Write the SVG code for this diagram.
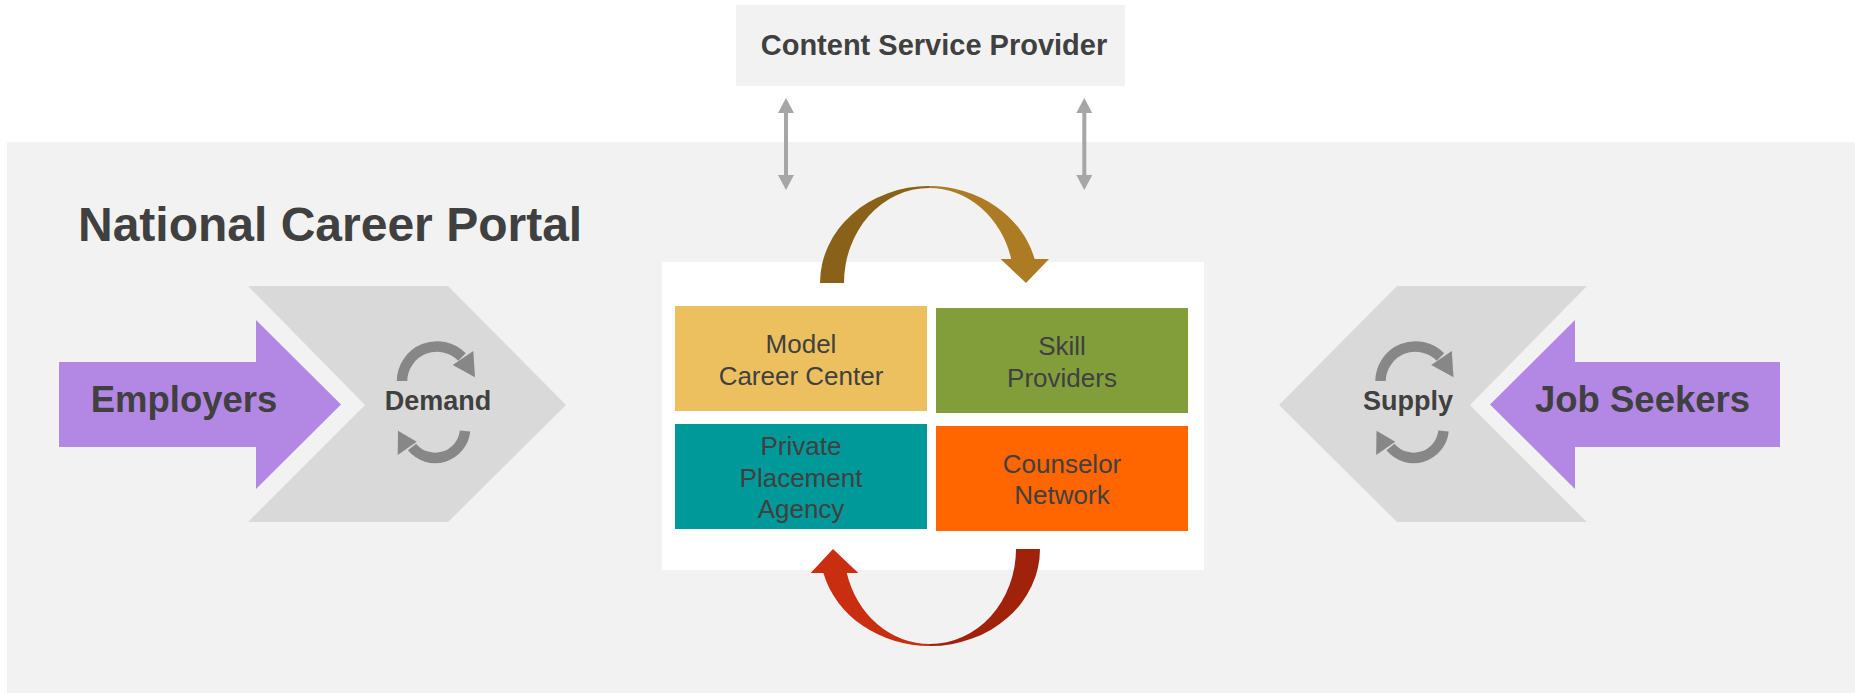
<svg xmlns="http://www.w3.org/2000/svg" width="1855" height="693" viewBox="0 0 1855 693">
<style>
.t{font-family:"Liberation Sans",Arial,sans-serif;fill:#404040;text-anchor:middle}
.b{font-weight:bold}
.box{font-size:26px}
.chev{fill:#D9D9D9}
.big{fill:#B388E4}
.cyc{fill:none;stroke:#878787;stroke-width:10.5}
.cych{fill:#878787}
.dbl{stroke:#A6A6A6;stroke-width:4;fill:none}
</style>
<defs>
<marker id="ah" viewBox="0 0 15 16" refX="5" refY="8" markerWidth="15" markerHeight="16" markerUnits="userSpaceOnUse" orient="auto-start-reverse">
<path d="M0,0 L15,8 L0,16 Z" fill="#A6A6A6"/>
</marker>
</defs>
<rect x="0" y="0" width="1855" height="693" fill="#FFFFFF"/>
<g id="portal">
<rect x="7" y="142" width="1848" height="551" fill="#F2F2F2"/>
<text class="t b" x="78" y="241" font-size="48" style="text-anchor:start">National Career Portal</text>
</g>
<g id="csp">
<rect x="736" y="5" width="389" height="81" fill="#F2F2F2"/>
<text class="t b" x="934" y="55" font-size="29">Content Service Provider</text>
</g>
<g id="demand">
<polygon class="chev" points="248,286 448,286 566,405 448,522 248,522 365,405"/>
<path class="cyc" d="M402,381 A35,35 0 0 1 462,357"/>
<polygon class="cych" points="452.7,365 473.3,351 475,377.3"/>
<path class="cyc" d="M465,431 A30,30 0 0 1 412,447"/>
<polygon class="cych" points="398,430.7 397.7,455 416.7,441.7"/>
<text class="t b" x="438" y="410" font-size="27">Demand</text>
</g>
<g id="supply">
<polygon class="chev" points="1397,286 1587,286 1470,405 1587,522 1397,522 1279,405"/>
<path class="cyc" d="M1380.5,381 A35,35 0 0 1 1440.5,357"/>
<polygon class="cych" points="1431.2,365 1451.8,351 1453.5,377.3"/>
<path class="cyc" d="M1443.5,431 A30,30 0 0 1 1390.5,447"/>
<polygon class="cych" points="1376.5,430.7 1376.2,455 1395.2,441.7"/>
<text class="t b" x="1408" y="410" font-size="27">Supply</text>
</g>
<g id="employers">
<polygon class="big" points="59,362 256,362 256,320 341,404.5 256,489 256,447 59,447"/>
<text class="t b" x="184" y="411.5" font-size="36.5">Employers</text>
</g>
<g id="jobseekers">
<polygon class="big" points="1780,362 1575,362 1575,320 1490,404.5 1575,489 1575,447 1780,447"/>
<text class="t b" x="1642.5" y="411.5" font-size="36.5">Job Seekers</text>
</g>
<g id="hub">
<rect x="662" y="262" width="542" height="308" fill="#FFFFFF"/>
</g>
<g id="mcc">
<rect x="675" y="306" width="252" height="105" fill="#ECC05E"/>
<text class="t box" x="801" y="353">Model</text>
<text class="t box" x="801" y="385">Career Center</text>
</g>
<g id="skill">
<rect x="936" y="308" width="252" height="105" fill="#829E3B"/>
<text class="t box" x="1062" y="355">Skill</text>
<text class="t box" x="1062" y="387">Providers</text>
</g>
<g id="ppa">
<rect x="675" y="424" width="252" height="105" fill="#009999"/>
<text class="t box" x="801" y="455">Private</text>
<text class="t box" x="801" y="487">Placement</text>
<text class="t box" x="801" y="518">Agency</text>
</g>
<g id="counselor">
<rect x="936" y="426" width="252" height="105" fill="#FF6600"/>
<text class="t box" x="1062" y="473">Counselor</text>
<text class="t box" x="1062" y="504">Network</text>
</g>
<g id="connectors">
<line class="dbl" x1="786" y1="108" x2="786" y2="180" marker-start="url(#ah)" marker-end="url(#ah)"/>
<line class="dbl" x1="1084.3" y1="108" x2="1084.3" y2="180" marker-start="url(#ah)" marker-end="url(#ah)"/>
<path d="M820,283 A109,97 0 0 1 929,186 L929,188 A85,95 0 0 0 844,283 Z" fill="#8A6119"/>
<path d="M929,186 A109,97 0 0 1 1034.6,259 L1049,259 L1026,283 L1000.7,259 L1011.2,259 A85,95 0 0 0 929,188 Z" fill="#AD7B24"/>
<path d="M1040,549 A110,97 0 0 1 930,646 L930,644 A86,95 0 0 0 1016,549 Z" fill="#A0220B"/>
<path d="M930,646 A110,97 0 0 1 823.4,573 L810.7,573 L833,549 L858.3,573 L846.8,573 A86,95 0 0 0 930,644 Z" fill="#CA2E10"/>
</g>
</svg>
